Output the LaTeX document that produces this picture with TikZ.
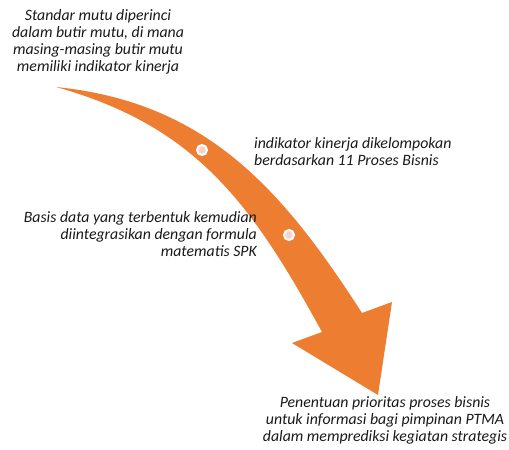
\documentclass[tikz,border=0pt]{standalone}
\usepackage{fontspec}
\setmainfont{Carlito}
\definecolor{arroworange}{HTML}{ED7D31}
\definecolor{dotpink}{HTML}{F5D3CB}
\begin{document}
\begin{tikzpicture}[x=1pt,y=-1pt,
  lbl/.style={font=\itshape\fontsize{15.8}{17.2}\selectfont, inner sep=0pt, text=black!90, anchor=base},
  dot/.style={circle, draw=white, line width=2pt, fill=dotpink, minimum size=10pt, inner sep=0pt}]
\useasboundingbox (0,0) rectangle (509,450);
% curved arrow
\fill[arroworange] (56,87) .. controls (205,102) and (281,187) .. (362,313)
  -- (392,302) -- (378,395) -- (292,343) -- (322,332)
  .. controls (252,204) and (196,126) .. (56,87) -- cycle;
\node[dot] (d1) at (202,150) {};
\node[dot] (d2) at (289,235) {};
% base anchor = baseline of the last line
\node[lbl, align=center] (t1) at (98,71.7) {Standar mutu diperinci\\dalam butir mutu, di mana\\masing-masing butir mutu\\memiliki indikator kinerja};
\node[lbl, align=left, anchor=base west] (t2) at (254,165.3) {indikator kinerja dikelompokan\\berdasarkan 11 Proses Bisnis};
\node[lbl, align=right, anchor=base east] (t3) at (257,256.8) {Basis data yang terbentuk kemudian\\diintegrasikan dengan formula\\matematis SPK};
\node[lbl, align=center] (t4) at (385,441.7) {Penentuan prioritas proses bisnis\\untuk informasi bagi pimpinan PTMA\\dalam memprediksi kegiatan strategis};
\end{tikzpicture}
\end{document}
